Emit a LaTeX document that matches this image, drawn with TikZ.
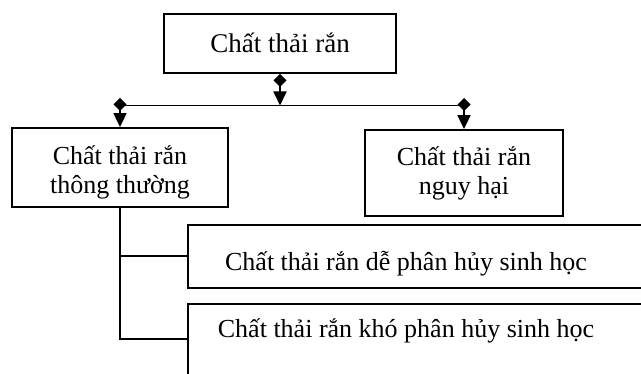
\documentclass[tikz,border=0pt]{standalone}
\usepackage{fontspec}
\setmainfont{Liberation Serif}
\usetikzlibrary{arrows.meta}
\begin{document}
\begin{tikzpicture}[x=1pt,y=-1pt,
  box/.style={draw=black,line width=1.8pt,inner sep=0pt},
  lbl/.style={inner sep=0pt,align=center,font=\fontsize{26}{29}\selectfont},
  conn/.style={line width=1.8pt,{Diamond[length=13pt,width=13pt]}-{Triangle[length=14pt,width=13pt]}},
  ln/.style={line width=1.8pt}]
\useasboundingbox (0,0) rectangle (641,374);
\clip (0,0) rectangle (641,374);
\node[box,minimum width=232pt,minimum height=59pt] (top) at (280,43.5) {};
\node[lbl,anchor=base,font=\fontsize{27}{29}\selectfont] (ttop) at (280,53) {Chất thải rắn};
\node[box,minimum width=216pt,minimum height=79pt] (left) at (120,167.5) {};
\node[lbl,anchor=base] (tleft) at (120,194) {Chất thải rắn\\thông thường};
\node[box,minimum width=198pt,minimum height=86pt] (right) at (464,173) {};
\node[lbl,anchor=base] (tright) at (464,195) {Chất thải rắn\\nguy hại};
\node[box,anchor=north west,minimum width=520pt,minimum height=63pt] (b1) at (187,224) {};
\node[lbl,anchor=base] (t1) at (406,271) {Chất thải rắn dễ phân hủy sinh học};
\node[box,anchor=north west,minimum width=520pt,minimum height=110pt] (b2) at (187,303) {};
\node[lbl,anchor=base] (t2) at (406,338) {Chất thải rắn khó phân hủy sinh học};
\coordinate (hl) at (120,105.5);
\coordinate (hr) at (464,105.5);
\coordinate (la) at (120,98);
\coordinate (ra) at (464,98);
\coordinate (b2in) at (187,339);
\draw[ln] (hl) -- (hr);
\draw[conn] (top.south) -- (top.south |- hr);
\draw[conn] (la) -- (left.north);
\draw[conn] (ra) -- (right.north);
\draw[ln] (left.south) |- (b1.west);
\draw[ln] (left.south) |- (b2in);
\end{tikzpicture}
\end{document}
